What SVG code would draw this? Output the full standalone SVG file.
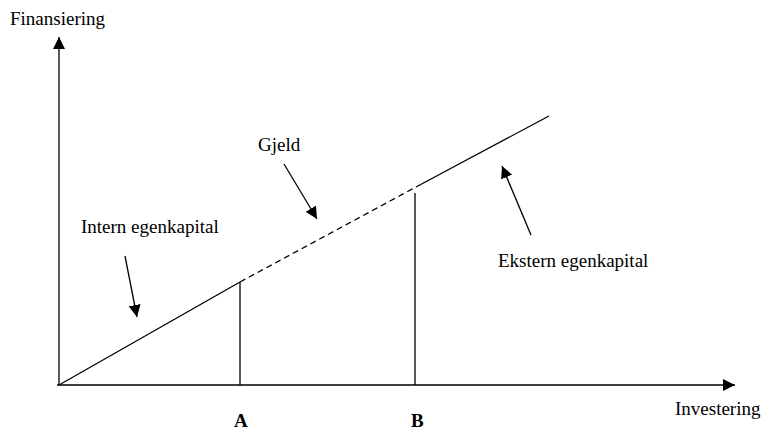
<svg xmlns="http://www.w3.org/2000/svg" width="765" height="434" viewBox="0 0 765 434">
<defs>
<style>
.t{font-family:"Liberation Serif","Times New Roman",serif;font-size:19px;fill:#000}
.b{font-weight:bold}
.ln{stroke:#000;stroke-width:1.3;fill:none}
.dash{stroke-dasharray:6,4}
</style>
<marker id="ah" viewBox="0 0 10 10" refX="10" refY="5" markerWidth="12" markerHeight="12" markerUnits="userSpaceOnUse" orient="auto">
<path d="M0,0 L10,5 L0,10 z" fill="#000"/>
</marker>
</defs>
<rect width="765" height="434" fill="#fff"/>
<g id="connectors">
<line id="y-axis" class="ln" x1="59" y1="385" x2="59" y2="37" marker-end="url(#ah)"/>
<line id="x-axis" class="ln" x1="57" y1="385" x2="735" y2="385" marker-end="url(#ah)"/>
<line class="ln" x1="59" y1="385" x2="240" y2="282"/>
<line class="ln dash" x1="240" y1="282" x2="416" y2="187"/>
<line class="ln" x1="416" y1="187" x2="549" y2="116"/>
<line class="ln" x1="240" y1="282" x2="240" y2="385"/>
<line class="ln" x1="415" y1="193" x2="415" y2="385"/>
<line class="ln" x1="125" y1="256" x2="137" y2="317" marker-end="url(#ah)"/>
<line class="ln" x1="284" y1="164" x2="317" y2="219" marker-end="url(#ah)"/>
<line class="ln" x1="531" y1="235" x2="502" y2="166" marker-end="url(#ah)"/>
</g>
<g id="label-finansiering"><text class="t" x="10" y="25">Finansiering</text></g>
<g id="label-investering"><text class="t" x="675" y="415">Investering</text></g>
<g id="label-intern"><text class="t" x="81" y="233">Intern egenkapital</text></g>
<g id="label-gjeld"><text class="t" x="258" y="151">Gjeld</text></g>
<g id="label-ekstern"><text class="t" x="498" y="267">Ekstern egenkapital</text></g>
<g id="label-A"><text class="t b" x="234" y="427">A</text></g>
<g id="label-B"><text class="t b" x="411" y="427">B</text></g>
</svg>
